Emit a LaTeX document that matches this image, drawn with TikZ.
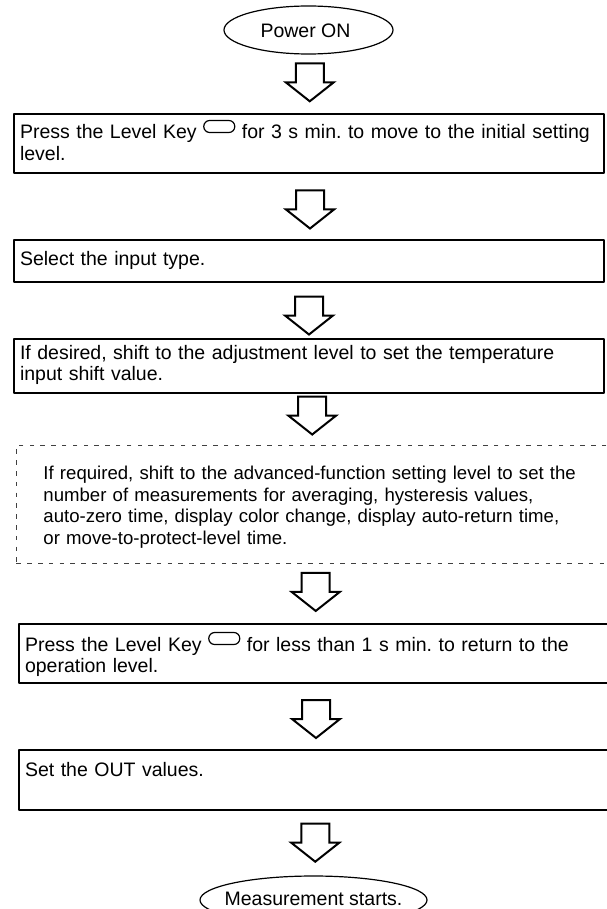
\documentclass[tikz,border=0pt]{standalone}
\usepackage{fontspec}
\setmainfont{Liberation Sans}
\usetikzlibrary{calc,shapes.geometric}
\frenchspacing
\hyphenpenalty=10000
%phim Level
\newcommand{\levelkey}{\tikz[baseline=0pt,x=1pt,y=1pt,line width=1.2pt]\draw[rounded corners=5.9pt] (1.5,6.5) rectangle (32.5,18.5);}
%mui ten rong giua hai khoi
\newcommand{\flowarrow}[3][0,0]{%
	\path ($(#2.south)!.5!(#3.north)$) ++(#1) coordinate (m);
	\draw[hollow] (m) ++(-14,-19) -- ++(0,19) -- ++(-10,0) -- ++(24,19) -- ++(24,-19) -- ++(-10,0) -- ++(0,-19) -- cycle;}
\begin{document}
\begin{tikzpicture}[x=1pt,y=-1pt, font=\fontsize{19.5}{21.5}\selectfont, line join=round,
	box/.style={draw, line width=2pt, anchor=north west, text width=#1, align=left, inner xsep=6pt, inner ysep=0pt},
	dbox/.style={draw=black!75, line width=0.9pt, dash pattern=on 4.5pt off 6.3pt, anchor=north west, text width=560pt, align=left, inner xsep=27pt, inner ysep=0pt, font=\fontsize{18.6}{21.7}\selectfont},
	oval/.style={draw, ellipse, line width=1.2pt, inner sep=0pt, minimum height=48pt},
	hollow/.style={draw, line width=2pt, fill=white, line join=miter}]
	\def\xa{13} \def\xb{18}
	\useasboundingbox (0,0) rectangle (606,909);
	%Power ON
	\node[oval, minimum width=169pt] (e1) at (308.5,30) {};
	\node (t1) at (305.5,31) {Power ON};
	%cac buoc
	\node[box=578pt, text height=25pt, text depth=34pt] (b1) at (\xa,113) {Press the Level Key \levelkey{} for 3 s min. to move to the initial setting\\level.};
	\node[box=578pt, text height=25pt, text depth=17pt] (b2) at (\xa,239) {Select the input type.};
	\node[box=578pt, text height=20pt, text depth=34pt] (b3) at (\xa,338) {If desired, shift to the adjustment level to set the temperature\\input shift value.};
	\node[dbox, text height=34pt, text depth=84pt] (d4) at (16,445) {If required, shift to the advanced-function setting level to set the\\number of measurements for averaging, hysteresis values,\\auto-zero time, display color change, display auto-return time,\\or move-to-protect-level time.};
	\node[box=600pt, text height=27pt, text depth=32pt] (b5) at (\xb,623) {Press the Level Key \levelkey{} for less than 1 s min. to return to the\\operation level.};
	\node[box=600pt, text height=26pt, text depth=34pt] (b6) at (\xb,749) {Set the OUT values.};
	%ket thuc
	\node[oval, minimum width=227pt] (e2) at (313.5,900) {};
	\node (t2) at (313.5,899) {Measurement starts.};
	%mui ten
	\flowarrow[1,-1.5]{e1}{b1}
	\flowarrow[1,3]{b1}{b2}
	\flowarrow[0,5]{b2}{b3}
	\flowarrow[-4,-4]{b3}{d4}
	\flowarrow[-8.5,-1.5]{d4}{b5}
	\flowarrow[-9,2.5]{b5}{b6}
	\flowarrow[-4,-0.5]{b6}{e2}
\end{tikzpicture}
\end{document}
